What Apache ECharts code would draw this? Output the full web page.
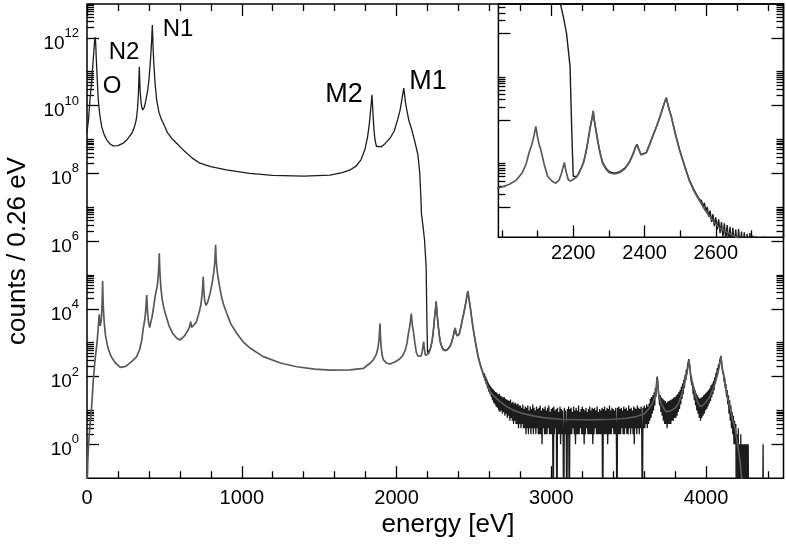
<!DOCTYPE html>
<html><head><meta charset="utf-8">
<script src="https://cdn.jsdelivr.net/npm/echarts@6/dist/echarts.min.js"></script>
<style>html,body{margin:0;padding:0;background:#fff}#c{width:786px;height:546px}</style>
</head><body><div id="c"></div>
<script>
// ---------------- DATA (energy in eV) ----------------
// measured spectrum below 2200 eV: [energy, log10(counts / 0.26 eV)]
const measuredLowLog10 = [
 [0,9.2],[10,9.6],[19,10.17],[28,10.6],[37,11.15],[44,11.6],[49,11.9],[53,12.02],[56,11.85],[59,11.5],[63,11.1],
 [68,10.6],[73,10.17],[82,9.75],[95,9.38],[110,9.15],[127,8.99],[150,8.86],[170,8.81],[200,8.82],[234,8.89],[260,9.0],
 [289,9.18],[305,9.35],[315,9.52],[321,9.67],[327,9.95],[332,10.35],[336,10.85],[338,11.15],[340,10.85],[343,10.45],
 [349,10.1],[355,9.93],[360,9.87],[370,9.95],[380,10.15],[392,10.45],[400,10.75],[407,11.15],[413,11.55],[418,11.95],
 [422,12.38],[425,12.0],[428,11.6],[433,11.15],[440,10.65],[450,10.17],[465,9.8],[480,9.6],[493,9.48],[520,9.2],
 [550,9.02],[579,8.89],[620,8.7],[680,8.45],[730,8.3],[800,8.2],[900,8.1],[1050,8.0],[1200,7.94],[1400,7.92],[1570,7.95],
 [1650,8.02],[1700,8.1],[1740,8.22],[1770,8.4],[1795,8.7],[1812,9.05],[1825,9.5],[1833,9.9],[1838,10.15],[1841,10.32],
 [1844,10.1],[1848,9.75],[1854,9.3],[1860,9.0],[1870,8.8],[1880,8.75],[1900,8.78],[1920,8.85],[1940,8.95],[1960,9.05],
 [1985,9.25],[2008,9.6],[2022,9.85],[2034,10.17],[2042,10.4],[2047,10.52],[2051,10.35],[2057,10.1],[2067,9.85],
 [2080,9.55],[2099,9.28],[2120,8.9],[2138,8.55],[2150,8.0],[2157,7.3],[2161,6.8],[2172,6.4],[2181,6.02],[2191,5.25],
 [2196,3.71],[2200,2.71]
];
// measured spectrum 2205-2554 eV: [energy, counts]
const measuredMid = [
 [2205,470],[2210,500],[2217,650],[2224,830],[2230,1170],[2236,1850],[2240,2900],[2244,4600],[2248,7300],[2253,11500],
 [2256,16600],[2259,10300],[2263,6500],[2268,3700],[2275,1850],[2282,1100],[2292,780],[2301,650],[2315,600],[2329,640],
 [2345,790],[2357,1080],[2368,1700],[2375,2450],[2379,2800],[2383,2280],[2390,1620],[2395,1520],[2405,1820],[2415,2880],
 [2423,4350],[2435,7700],[2447,15000],[2455,24300],[2461,33300],[2466,22600],[2470,16800],[2475,12500],[2486,5100],
 [2498,2150],[2512,920],[2526,420],[2540,240],[2554,150]
];
// measured spectrum, noisy part: counts in 4 eV steps from 2560 eV
const noisyStart = 2560, noisyStep = 4;
const measuredNoisy = [
 140,100,125,80,100,60,82,45,68,36,
 58,30,52,25,45,20,42,17,38,15,
 35,13,33,12,30,10,31,9,27,10,
 26,8,24,9,25,7,22,8,21,6,
 20,7,19,5,21,6,17,5,18,4,
 16,5,17,4,15,4,16,3,14,4,
 14,3,12,4,15,3,11,3,13,2,
 12,3,14,2,10,3,13,2,11,3,
 15,2,12,3,10,2,13,3,11,2,
 12,2,14,2,10,1,12,3,11,2,
 13,2,10,2,12,3,14,2,9,2,
 11,2,12,0,13,2,10,3,11,0,
 12,2,9,2,13,1,11,2,10,2,
 0,12,2,10,3,0,11,2,13,0,
 11,2,12,2,9,3,13,2,10,1,
 12,2,10,2,14,2,9,3,11,2,
 13,2,11,1,10,2,12,3,9,2,
 11,2,13,2,10,2,12,1,11,2,
 12,3,10,2,13,2,9,2,11,2,
 10,2,12,0,11,2,13,2,10,2,
 12,1,11,2,14,2,10,2,12,3,
 11,2,10,2,12,3,0,12,2,13,
 2,11,2,12,3,10,2,13,2,11,
 3,12,2,10,2,14,3,11,2,12,
 3,10,2,13,1,12,3,11,2,14,
 3,12,2,11,3,13,2,0,12,3,
 14,3,12,4,15,3,13,4,16,5,
 22,6,25,8,28,10,34,14,45,25,
 75,100,70,35,38,14,28,9,24,7,
 22,5,20,4,19,4,17,3,18,4,
 19,4,20,4,21,5,22,5,24,6,
 25,6,28,7,30,9,35,11,40,15,
 50,22,62,30,80,45,110,75,160,115,
 210,190,330,250,180,95,105,55,68,30,
 50,20,40,14,32,10,28,8,24,6,
 22,5,24,6,25,7,28,8,30,10,
 33,11,36,13,40,16,45,19,55,24,
 62,30,75,40,95,60,130,95,180,140,
 230,180,300,280,410,260,230,120,140,70,
 95,45,60,25,40,15,28,8,20,5,
 14,3,9,2,7,1,5,1,4,0,
 2,0,3,0,1,0,2,0,1,0,
 1,0,1,0,1,0,1,0,1,0
];
const measuredTail = [[4280,0],[4364,0],[4368,1],[4372,0],[4500,0]];
// model spectrum (grey curve): [energy, log10(counts / 0.26 eV)]
const modelLog10 = [
 [0,-1.05],[10,0.0],[20,0.6],[30,1.1],[40,1.85],[52,2.5],[65,3.0],[72,3.4],[76,3.65],[79,3.84],[82,3.62],[85,3.5],
 [88,3.47],[92,3.65],[95,3.9],[98,4.25],[100,4.55],[101,4.82],[102,4.6],[104,4.25],[107,3.9],[112,3.55],[120,3.2],
 [135,2.85],[155,2.6],[180,2.42],[215,2.27],[250,2.3],[290,2.45],[321,2.59],[340,2.8],[355,3.1],[362,3.38],[367,3.42],
 [374,3.7],[380,4.0],[384,4.3],[386,4.41],[388,4.2],[392,3.85],[398,3.6],[405,3.45],[412,3.5],[422,3.8],[432,4.1],
 [440,4.35],[446,4.51],[452,4.62],[458,4.85],[463,5.15],[466,5.45],[467,5.64],[469,5.3],[472,5.0],[477,4.65],[485,4.3],
 [495,4.05],[510,3.8],[530,3.5],[555,3.27],[580,3.13],[601,3.08],[630,3.2],[654,3.38],[664,3.5],[670,3.62],[676,3.45],
 [687,3.4],[705,3.6],[722,3.85],[735,4.1],[743,4.4],[748,4.7],[751,4.95],[754,4.6],[760,4.25],[769,4.1],[780,4.2],
 [795,4.45],[810,4.8],[820,5.1],[826,5.4],[831,5.89],[834,5.5],[838,5.25],[845,4.98],[855,4.7],[867,4.4],[880,4.16],
 [900,3.9],[930,3.55],[967,3.28],[1010,3.02],[1060,2.82],[1139,2.59],[1250,2.4],[1355,2.29],[1470,2.22],[1570,2.19],
 [1700,2.2],[1785,2.24],[1830,2.4],[1849,2.49],[1865,2.62],[1871,2.69],[1880,2.85],[1887,3.1],[1891,3.4],[1893,3.57],
 [1896,3.2],[1900,2.9],[1906,2.65],[1914,2.5],[1935,2.4],[1957,2.37],[1992,2.44],[2020,2.52],[2040,2.62],[2057,2.79],
 [2068,3.0],[2076,3.25],[2084,3.45],[2090,3.65],[2095,3.86],[2099,3.65],[2104,3.45],[2109,3.32],[2118,3.0],[2128,2.71],
 [2140,2.6],[2151,2.55],[2160,2.62],[2166,2.75],[2171,2.9],[2175,3.03],[2179,2.85],[2186,2.63],[2192,2.6],[2198,2.63],
 [2208,2.68],[2217,2.79],[2230,3.05],[2240,3.45],[2248,3.85],[2253,4.05],[2256,4.21],[2259,4.0],[2263,3.8],[2268,3.55],
 [2275,3.25],[2282,3.02],[2292,2.87],[2301,2.79],[2315,2.76],[2329,2.79],[2345,2.88],[2357,3.02],[2368,3.22],[2375,3.38],
 [2379,3.44],[2383,3.35],[2390,3.2],[2395,3.17],[2405,3.25],[2415,3.45],[2423,3.63],[2435,3.88],[2447,4.17],[2455,4.38],
 [2461,4.52],[2466,4.35],[2470,4.22],[2475,4.09],[2486,3.7],[2498,3.32],[2512,2.95],[2526,2.6],[2540,2.35],[2554,2.15],
 [2572,1.9],[2592,1.68],[2610,1.52],[2630,1.42],[2668,1.26],[2710,1.12],[2754,1.01],[2800,0.93],[2883,0.84],[2960,0.78],
 [3056,0.74],[3250,0.72],[3400,0.74],[3486,0.77],[3550,0.82],[3600,0.9],[3630,1.05],[3650,1.18],[3665,1.35],[3675,1.55],
 [3680,1.72],[3684,1.95],[3688,1.72],[3693,1.52],[3700,1.35],[3712,1.18],[3730,1.03],[3745,0.96],[3775,1.0],[3800,1.07],
 [3820,1.2],[3840,1.45],[3855,1.7],[3868,1.95],[3878,2.17],[3885,2.35],[3889,2.49],[3893,2.32],[3900,2.08],[3910,1.85],
 [3925,1.55],[3940,1.3],[3960,1.12],[3980,1.15],[4000,1.25],[4024,1.41],[4045,1.65],[4060,1.85],[4075,2.08],[4085,2.3],
 [4092,2.47],[4096,2.59],[4100,2.42],[4106,2.2],[4115,1.98],[4125,1.7],[4140,1.35],[4153,1.11],[4170,0.75],[4189,0.42],
 [4205,-0.05],[4221,-0.56],[4232,-1.1],[4240,-1.5]
];
// axis ticks / labels
const xMajor = [0,1000,2000,3000,4000];
const xMinor = [200,400,600,800,1200,1400,1600,1800,2200,2400,2600,2800,3200,3400,3600,3800,4200,4400];
const yLabelExp = [0,2,4,6,8,10,12];
const insetXMajor = [2200,2400,2600];
const insetXMinor = [2000,2100,2300,2500,2700];
const insetYExp = [2,4,6];
const minorFactors = [2,3,4,5,6,7,8,9,10];
const peakNames = ['O','N2','N1','M2','M1'];

// ---------------- BUILD ----------------
const FONT = '"Liberation Sans", Arial, Helvetica, sans-serif';
const lg = v => v > 0 ? Math.log10(v) : -3;
const measuredPts = measuredLowLog10
  .concat(measuredMid.map(p => [p[0], lg(p[1])]))
  .concat(measuredNoisy.map((v, i) => [noisyStart + i * noisyStep, lg(v)]))
  .concat(measuredTail.map(p => [p[0], lg(p[1])]));
const modelPts = modelLog10;
const minorOf = exps => { const r = []; exps.forEach(e => minorFactors.forEach(k => r.push(e + Math.log10(k)))); return r; };

function axis(o) {
  const a = {
    type: 'value', gridIndex: o.g, position: o.pos, min: o.min, max: o.max, silent: true,
    axisLine: { show: false, onZero: false },
    splitLine: { show: false }, minorTick: { show: false }, minorSplitLine: { show: false },
    axisTick: { show: true, inside: true, length: o.len, customValues: o.ticks, lineStyle: { color: '#000', width: 1.3 } },
    axisLabel: { show: false }
  };
  if (o.labels) a.axisLabel = Object.assign({ show: true, customValues: o.labels, color: '#000', fontFamily: FONT, fontSize: 20,
    margin: o.margin, formatter: v => String(v) }, o.extra || {});
  return a;
}
const supLabel = {
  formatter: v => '{b|10}{s|' + v + '}',
  rich: {
    b: { fontSize: 19, fontFamily: FONT, color: '#000', lineHeight: 19, padding: [11, 0, 0, 0] },
    s: { fontSize: 13, fontFamily: FONT, color: '#000', lineHeight: 13, padding: [0, 0, 9, 0] }
  }
};
const MX = [0, 4500], MY = [-1, 13], IX = [1990, 2790], IY = [1.3, 6.685];
const peakText = (name, x, y, size) => ({ type: 'text', x, y,
  style: { text: name, font: size + 'px ' + FONT, fill: '#000', align: 'center', verticalAlign: 'middle' } });

const option = {
  animation: false,
  backgroundColor: '#fff',
  grid: [
    { left: 87, right: 2.5, top: 4, bottom: 67.8, show: true, borderColor: '#000', borderWidth: 1.5, backgroundColor: 'transparent' },
    { left: 498.4, right: 2.5, top: 4, bottom: 308.7, show: true, borderColor: '#000', borderWidth: 1.5, backgroundColor: 'transparent' }
  ],
  xAxis: [
    axis({ g: 0, pos: 'bottom', min: MX[0], max: MX[1], len: 12, ticks: xMajor, labels: xMajor, margin: 10 }),
    axis({ g: 0, pos: 'bottom', min: MX[0], max: MX[1], len: 7, ticks: xMinor }),
    axis({ g: 0, pos: 'top', min: MX[0], max: MX[1], len: 12, ticks: xMajor }),
    axis({ g: 0, pos: 'top', min: MX[0], max: MX[1], len: 7, ticks: xMinor }),
    axis({ g: 1, pos: 'bottom', min: IX[0], max: IX[1], len: 12, ticks: insetXMajor, labels: insetXMajor, margin: 6 }),
    axis({ g: 1, pos: 'bottom', min: IX[0], max: IX[1], len: 7, ticks: insetXMinor })
  ],
  yAxis: [
    axis({ g: 0, pos: 'left', min: MY[0], max: MY[1], len: 12, ticks: yLabelExp, labels: yLabelExp, margin: 8, extra: supLabel }),
    axis({ g: 0, pos: 'left', min: MY[0], max: MY[1], len: 7, ticks: minorOf(yLabelExp) }),
    axis({ g: 0, pos: 'right', min: MY[0], max: MY[1], len: 12, ticks: yLabelExp }),
    axis({ g: 0, pos: 'right', min: MY[0], max: MY[1], len: 7, ticks: minorOf(yLabelExp) }),
    axis({ g: 1, pos: 'left', min: IY[0], max: IY[1], len: 12, ticks: insetYExp }),
    axis({ g: 1, pos: 'left', min: IY[0], max: IY[1], len: 7, ticks: minorOf(insetYExp) })
  ],
  series: [
    { type: 'line', xAxisIndex: 0, yAxisIndex: 0, data: measuredPts, showSymbol: false, symbol: 'none', clip: true, z: 2,
      lineStyle: { color: '#1c1c1c', width: 1.3 } },
    { type: 'line', xAxisIndex: 0, yAxisIndex: 0, data: modelPts, showSymbol: false, symbol: 'none', clip: true, z: 3,
      lineStyle: { color: '#595959', width: 1.7 } },
    { type: 'line', xAxisIndex: 4, yAxisIndex: 4, data: measuredPts, showSymbol: false, symbol: 'none', clip: true, z: 2,
      lineStyle: { color: '#1c1c1c', width: 1.4 } },
    { type: 'line', xAxisIndex: 4, yAxisIndex: 4, data: modelPts, showSymbol: false, symbol: 'none', clip: true, z: 3,
      lineStyle: { color: '#595959', width: 1.7 } }
  ],
  graphic: [
    peakText(peakNames[0], 112, 86, 24),
    peakText(peakNames[1], 124, 52, 24),
    peakText(peakNames[2], 178, 29, 24),
    peakText(peakNames[3], 344, 95, 27),
    peakText(peakNames[4], 428, 82, 27),
    { type: 'text', x: 448, y: 525, style: { text: 'energy [eV]', font: '26px ' + FONT, fill: '#000', align: 'center', verticalAlign: 'middle' } },
    { type: 'text', x: 18, y: 251, rotation: Math.PI / 2, style: { text: 'counts / 0.26 eV', font: '26px ' + FONT, fill: '#000', align: 'center', verticalAlign: 'middle' } }
  ]
};
const chart = echarts.init(document.getElementById('c'), null, { renderer: 'canvas' });
chart.setOption(option);
</script>
</body></html>
